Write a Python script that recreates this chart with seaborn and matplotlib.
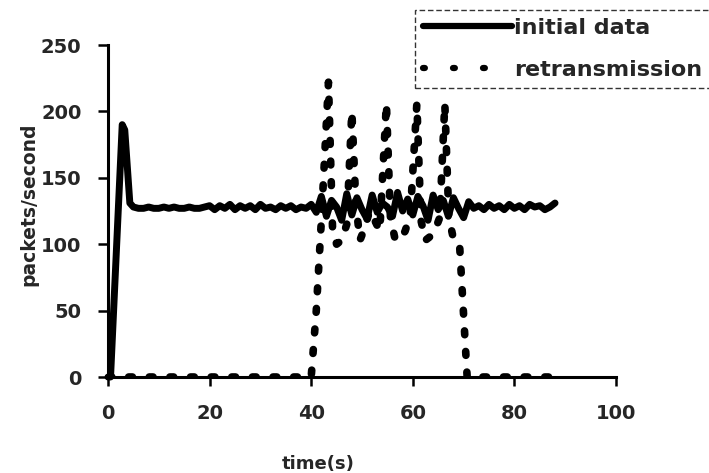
import matplotlib
matplotlib.use("Agg")
import matplotlib.pyplot as plt
import seaborn as sns
import pandas as pd

# ---- data ----
t_init = [0, 0.5, 2.8, 3.3, 4.3] + list(range(5, 89))
v_init = [0, 0, 190, 186, 131,
          # 5-19
          128, 127, 127, 128, 127, 127, 128, 127, 128, 127, 127, 128, 127, 127, 128,
          # 20-39
          129, 126, 129, 127, 130, 126, 129, 127, 129, 126, 130, 127, 128, 126, 129, 127, 129, 126, 128, 127,
          # 40-71
          130, 124, 136, 121, 133, 128, 118, 138, 122, 135, 126, 119, 137, 124, 131, 128,
          121, 139, 125, 134, 122, 136, 129, 118, 137, 126, 133, 121, 135, 127, 120, 132,
          # 72-88
          127, 129, 126, 130, 127, 129, 126, 130, 127, 129, 126, 130, 128, 129, 126, 128, 131]

t_retx = [0, 40, 41, 42, 43.4, 44.2, 45, 46, 47, 48, 48.8, 49.6, 50.5, 51.5, 52.5, 53.5,
          54.8, 55.6, 56.5, 57.5, 58.5, 59.5, 60.8, 61.6, 62.5, 63.5, 64.5, 65.3, 66.3,
          67.1, 68, 69.2, 69.8, 70.7, 88]
v_retx = [0, 0, 50, 118, 222, 112, 100, 103, 115, 200, 130, 103, 112, 125, 118, 110,
          206, 120, 104, 103, 110, 122, 206, 118, 103, 106, 112, 120, 206,
          120, 104, 100, 60, 0, 0]

series_names = ["initial data", "retransmission"]
x_ticks = [0, 20, 40, 60, 80, 100]
y_ticks = [0, 50, 100, 150, 200, 250]

df_init = pd.DataFrame({"time": t_init, "rate": v_init})
df_retx = pd.DataFrame({"time": t_retx, "rate": v_retx})

sns.set_style("ticks")
plt.rcParams["font.family"] = ["DejaVu Sans"]
plt.rcParams["font.weight"] = "bold"

fig = plt.figure(figsize=(7.09, 4.73), dpi=100)
ax = fig.add_axes([108 / 709, 1 - 377 / 473, (616 - 108) / 709, (377 - 45) / 473])

sns.lineplot(data=df_init, x="time", y="rate", ax=ax, color="black",
             linewidth=5, estimator=None, label=series_names[0], legend=False)
sns.lineplot(data=df_retx, x="time", y="rate", ax=ax, color="black",
             linewidth=5.5, estimator=None, label=series_names[1], legend=False)

l_init, l_retx = ax.get_lines()[:2]
l_init.set_solid_joinstyle("round")
l_init.set_solid_capstyle("round")
l_init.set_clip_on(False)
l_init.set_zorder(3)
l_retx.set_linestyle((0, (0.5, 2.2)))
l_retx.set_dash_capstyle("round")
l_retx.set_zorder(2)

ax.set_xlim(0, 100)
ax.set_ylim(0, 250)
ax.set_xticks(x_ticks)
ax.set_yticks(y_ticks)
ax.set_xticklabels([str(v) for v in x_ticks], fontsize=14, fontweight="bold")
ax.set_yticklabels([str(v) for v in y_ticks], fontsize=14, fontweight="bold")
ax.tick_params(axis="y", direction="out", length=7, width=1.8, pad=12, color="black")
ax.tick_params(axis="x", direction="out", length=6.5, width=1.8, pad=13, color="black")
for s in ("top", "right"):
    ax.spines[s].set_visible(False)
for s in ("left", "bottom"):
    ax.spines[s].set_linewidth(2.2)
    ax.spines[s].set_color("black")
    ax.spines[s].set_zorder(2.5)

ax.set_xlabel("time(s)", fontsize=13, fontweight="bold")
ax.set_ylabel("packets/second", fontsize=13.5, fontweight="bold", va="center")
ax.xaxis.set_label_coords(0.413, -0.236)
ax.yaxis.set_label_coords(-0.155, 0.52)

leg = fig.legend(handles=[l_init, l_retx], labels=series_names,
                 loc="upper left", bbox_to_anchor=(415 / 709, 1 - 10 / 473),
                 fontsize=16, frameon=True, fancybox=False, handlelength=4.0,
                 handletextpad=0.1, borderpad=0.35, labelspacing=1.0,
                 borderaxespad=0)
fr = leg.get_frame()
fr.set_linestyle((0, (4, 2)))
fr.set_edgecolor("black")
fr.set_linewidth(1.0)
for txt in leg.get_texts():
    txt.set_fontweight("bold")
hl = leg.get_lines()
hl[0].set_linewidth(4.5)
hl[1].set_linewidth(4.5)
hl[1].set_linestyle((0, (0.3, 4.5)))
hl[1].set_dash_capstyle("round")

fig.savefig("out.png", dpi=100)
